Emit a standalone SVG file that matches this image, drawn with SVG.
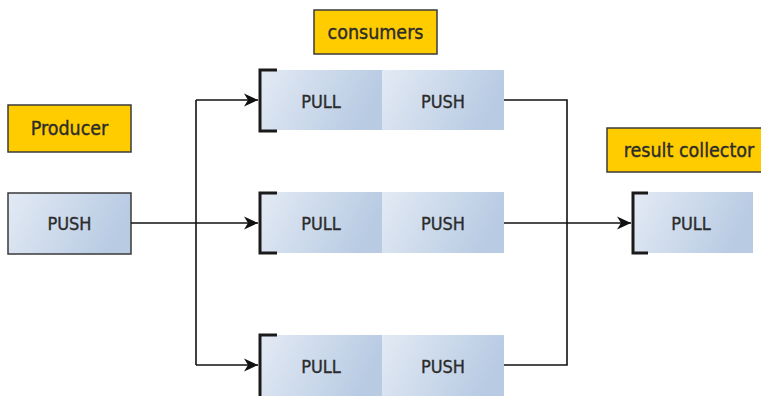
<svg xmlns="http://www.w3.org/2000/svg" width="761" height="396" viewBox="0 0 761 396">
<defs>
<linearGradient id="g" x1="0" y1="0" x2="1" y2="0.25">
<stop offset="0" stop-color="#e3eaf4"/>
<stop offset="1" stop-color="#b8cbe3"/>
</linearGradient>
<marker id="arr" markerWidth="16" markerHeight="14" refX="14" refY="7" orient="auto" markerUnits="userSpaceOnUse">
<path d="M0,0.5 L14,7 L0,13.5 L4,7 Z" fill="#111"/>
</marker>
<style>
.lbl{fill:#ffcc00;stroke:#3a3a3a;stroke-width:1.5}
.box{fill:url(#g)}
.pbox{fill:url(#g);stroke:#3a3a3a;stroke-width:1.5}
.br{fill:none;stroke:#1a1a1a;stroke-width:3}
.t{font-family:"DejaVu Sans Condensed","DejaVu Sans",sans-serif;font-stretch:condensed;font-size:18px;fill:#2b2b2b;stroke:#2b2b2b;stroke-width:0.35;text-anchor:middle;dominant-baseline:central}
.tl{font-family:"DejaVu Sans Condensed","DejaVu Sans",sans-serif;font-stretch:condensed;font-size:19.5px;fill:#2b2b2b;stroke:#2b2b2b;stroke-width:0.35;text-anchor:middle;dominant-baseline:central}
.c{fill:none;stroke:#111;stroke-width:1.6}
</style>
</defs>
<rect width="761" height="396" fill="#fff"/>
<g id="producer-label"><rect class="lbl" x="8" y="105" width="123" height="47"/><text class="tl" x="69.5" y="128.5">Producer</text></g>
<g id="consumers-label"><rect class="lbl" x="314" y="10" width="123" height="44"/><text class="tl" x="375.5" y="32">consumers</text></g>
<g id="collector-label"><rect class="lbl" x="607" y="128" width="162" height="44"/><text class="tl" x="689" y="150">result collector</text></g>
<g id="producer"><rect class="pbox" x="8" y="193" width="123" height="61"/><text class="t" x="69.5" y="223.5">PUSH</text></g>
<g id="consumer1">
<rect class="box" x="261" y="70" width="121" height="60"/><rect class="box" x="382" y="70" width="122" height="60"/>
<path class="br" d="M277,70 H260 V131 H277"/>
<text class="t" x="321" y="101">PULL</text><text class="t" x="443" y="101">PUSH</text>
</g>
<g id="consumer2">
<rect class="box" x="261" y="192" width="121" height="61"/><rect class="box" x="382" y="192" width="122" height="61"/>
<path class="br" d="M277,193 H260 V253 H277"/>
<text class="t" x="321" y="223">PULL</text><text class="t" x="443" y="223">PUSH</text>
</g>
<g id="consumer3">
<rect class="box" x="261" y="335" width="121" height="61"/><rect class="box" x="382" y="335" width="122" height="61"/>
<path class="br" d="M277,335 H260 V396"/>
<text class="t" x="321" y="366">PULL</text><text class="t" x="443" y="366">PUSH</text>
</g>
<g id="collector">
<rect class="box" x="634" y="192" width="119" height="61"/>
<path class="br" d="M648,193 H633 V253 H648"/>
<text class="t" x="691" y="223">PULL</text>
</g>
<g id="connectors">
<path class="c" d="M131,223 H196"/>
<path class="c" d="M196,100 V365"/>
<path class="c" d="M196,100 H258" marker-end="url(#arr)"/>
<path class="c" d="M196,223 H258" marker-end="url(#arr)"/>
<path class="c" d="M196,365 H258" marker-end="url(#arr)"/>
<path class="c" d="M504,100 H567 V365 H504"/>
<path class="c" d="M504,223 H631" marker-end="url(#arr)"/>
</g>
</svg>
